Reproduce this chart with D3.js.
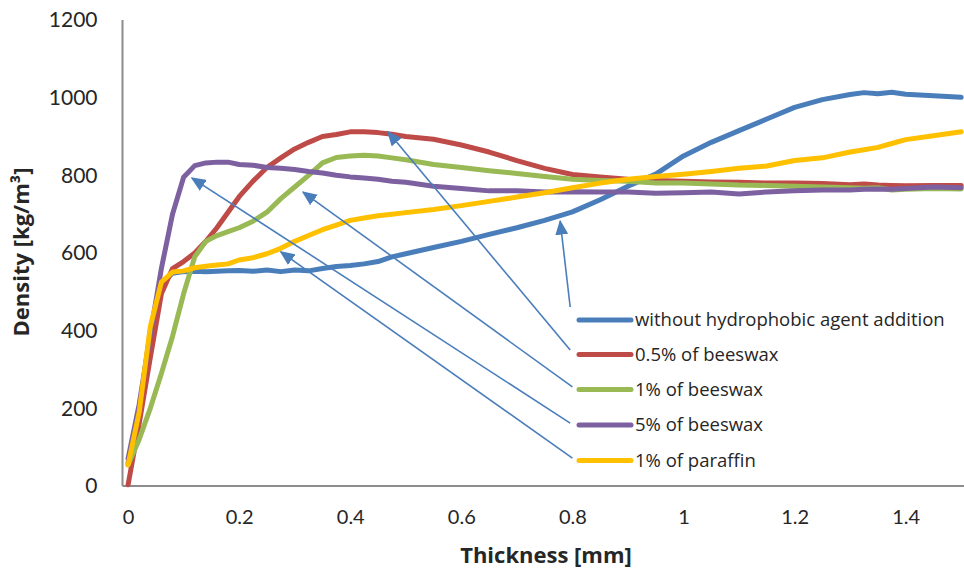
<!DOCTYPE html>
<html><head><meta charset="utf-8">
<script src="https://cdn.jsdelivr.net/npm/d3@7/dist/d3.min.js"></script>
<style>
html,body{margin:0;padding:0;background:#fff;}
svg{display:block;font-family:Lato,"Open Sans",sans-serif;}
</style></head>
<body>
<svg id="chart" width="964" height="574"></svg>
<script>
// ---- data ----
const thickness = [0, 0.02, 0.04, 0.06, 0.08, 0.1, 0.12, 0.14, 0.16, 0.18, 0.2, 0.225, 0.25, 0.275, 0.3, 0.325, 0.35, 0.375, 0.4, 0.425, 0.45, 0.475, 0.5, 0.55, 0.6, 0.65, 0.7, 0.75, 0.8, 0.85, 0.9, 0.95, 1.0, 1.05, 1.1, 1.15, 1.2, 1.25, 1.3, 1.325, 1.35, 1.375, 1.4, 1.45, 1.5];

const withoutAgent = [60, 190, 400, 520, 548, 552, 553, 552, 553, 554, 555, 553, 556, 552, 556, 554, 560, 565, 568, 572, 578, 590, 598, 614, 630, 648, 665, 684, 706, 737, 772, 803, 850, 885, 915, 945, 975, 995, 1008, 1013, 1010, 1014, 1009, 1005, 1001];
const beeswax05 = [3, 160, 330, 495, 560, 578, 600, 630, 665, 705, 745, 785, 820, 845, 868, 885, 900, 905, 912, 912, 910, 906, 900, 893, 878, 860, 838, 818, 802, 796, 790, 787, 785, 783, 782, 780, 780, 779, 776, 778, 775, 774, 773, 774, 774];
const beeswax1 = [55, 120, 200, 290, 385, 495, 590, 630, 645, 655, 665, 682, 705, 740, 770, 800, 832, 846, 850, 852, 850, 845, 840, 828, 820, 812, 805, 797, 790, 787, 785, 780, 780, 778, 775, 774, 772, 770, 768, 767, 768, 762, 764, 766, 765];
const beeswax5 = [70, 210, 390, 560, 700, 795, 825, 832, 834, 834, 828, 826, 820, 818, 815, 810, 806, 800, 796, 793, 790, 785, 782, 772, 766, 760, 760, 757, 758, 757, 757, 754, 755, 757, 752, 757, 760, 762, 762, 764, 765, 764, 766, 770, 768];
const paraffin1 = [54, 190, 410, 525, 551, 554, 562, 566, 569, 572, 582, 588, 598, 612, 630, 645, 660, 672, 684, 690, 696, 700, 704, 712, 722, 733, 744, 755, 768, 780, 790, 797, 803, 810, 818, 824, 838, 845, 860, 866, 872, 882, 892, 902, 912];

const seriesNames = ["without hydrophobic agent addition", "0.5% of beeswax", "1% of beeswax", "5% of beeswax", "1% of paraffin"];
const seriesColors = ["#4A7EBB", "#BE4B48", "#98B954", "#7D60A0", "#FFC000"];
const yTicks = [0, 200, 400, 600, 800, 1000, 1200];
const xTicks = [0, 0.2, 0.4, 0.6, 0.8, 1, 1.2, 1.4];
// callout arrows: tail (legend side) -> tip (on the curve), in data units
const arrowTails = [[0.796, 461], [0.796, 350], [0.800, 255], [0.796, 162], [0.800, 72]];
const arrowTips  = [[0.778, 682], [0.468, 912], [0.315, 757], [0.115, 793], [0.275, 603]];

const seriesValues = [withoutAgent, beeswax05, beeswax1, beeswax5, paraffin1];

// ---- chart ----
const svg = d3.select("#chart");
const x = d3.scaleLinear().domain([-0.01, 1.505]).range([122.5, 964]);
const y = d3.scaleLinear().domain([0, 1200]).range([486, 20]);

const axisColor = "#8C8C8C";
const textColor = "#262626";

// axes lines
svg.append("line").attr("x1", x(-0.01)).attr("x2", x(-0.01)).attr("y1", y(1200)).attr("y2", y(0))
  .attr("stroke", axisColor).attr("stroke-width", 2);
svg.append("line").attr("x1", x(-0.01)).attr("x2", x(1.505)).attr("y1", y(0)).attr("y2", y(0))
  .attr("stroke", axisColor).attr("stroke-width", 2);

// y axis ticks
const yAxis = d3.axisLeft(y).tickValues(yTicks).tickSize(0).tickPadding(25).tickFormat(d3.format("d"));
const gy = svg.append("g").attr("transform", `translate(${x(-0.01)},0)`).call(yAxis);
gy.select(".domain").remove();
gy.selectAll("text").attr("font-size", 21).attr("fill", textColor).attr("font-family", "Lato, sans-serif");

// x axis ticks
const xAxis = d3.axisBottom(x).tickValues(xTicks).tickSize(0).tickPadding(24).tickFormat(d => String(d));
const gx = svg.append("g").attr("transform", `translate(0,${y(0)})`).call(xAxis);
gx.select(".domain").remove();
gx.selectAll("text").attr("font-size", 20).attr("fill", textColor).attr("font-family", "Lato, sans-serif");

// axis titles
svg.append("text").attr("x", 546).attr("y", 563).attr("text-anchor", "middle")
  .attr("font-family", "'Open Sans', sans-serif")
  .attr("font-size", 22).attr("font-weight", "bold").attr("fill", textColor).text("Thickness [mm]");
svg.append("text").attr("transform", "translate(29,252) rotate(-90)").attr("text-anchor", "middle")
  .attr("font-family", "'Open Sans', sans-serif")
  .attr("font-size", 22).attr("font-weight", "bold").attr("fill", textColor).text("Density [kg/m³]");

// series lines
const line = d3.line().x(d => x(d[0])).y(d => y(d[1]));
seriesValues.forEach((vals, i) => {
  const pts = thickness.map((t, k) => [t, vals[k]]);
  svg.append("path").datum(pts).attr("d", line).attr("fill", "none")
    .attr("stroke", seriesColors[i]).attr("stroke-width", 5)
    .attr("stroke-linejoin", "round").attr("stroke-linecap", "round");
});

// arrow marker
svg.append("defs").append("marker").attr("id", "arrowhead")
  .attr("viewBox", "0 0 10 10").attr("refX", 9).attr("refY", 5)
  .attr("markerWidth", 15).attr("markerHeight", 13).attr("markerUnits", "userSpaceOnUse")
  .attr("orient", "auto").attr("preserveAspectRatio", "none")
  .append("path").attr("d", "M0,0 L10,5 L0,10 Z").attr("fill", "#4A7EBB");

arrowTails.forEach((tl, i) => {
  svg.append("line")
    .attr("x1", x(tl[0])).attr("y1", y(tl[1]))
    .attr("x2", x(arrowTips[i][0])).attr("y2", y(arrowTips[i][1]))
    .attr("stroke", "#4A7EBB").attr("stroke-width", 1.6)
    .attr("marker-end", "url(#arrowhead)");
});

// legend
const legendY = [320, 354.5, 389.5, 425, 460.5];
const lg = svg.append("g");
seriesNames.forEach((name, i) => {
  lg.append("line").attr("x1", 579).attr("x2", 631).attr("y1", legendY[i]).attr("y2", legendY[i])
    .attr("stroke", seriesColors[i]).attr("stroke-width", 5).attr("stroke-linecap", "round");
  lg.append("text").attr("x", 635).attr("y", legendY[i]).attr("dy", "0.35em")
    .attr("font-family", "'Open Sans', sans-serif")
    .attr("font-size", 18.5).attr("fill", textColor).text(name);
});
</script>
</body></html>
